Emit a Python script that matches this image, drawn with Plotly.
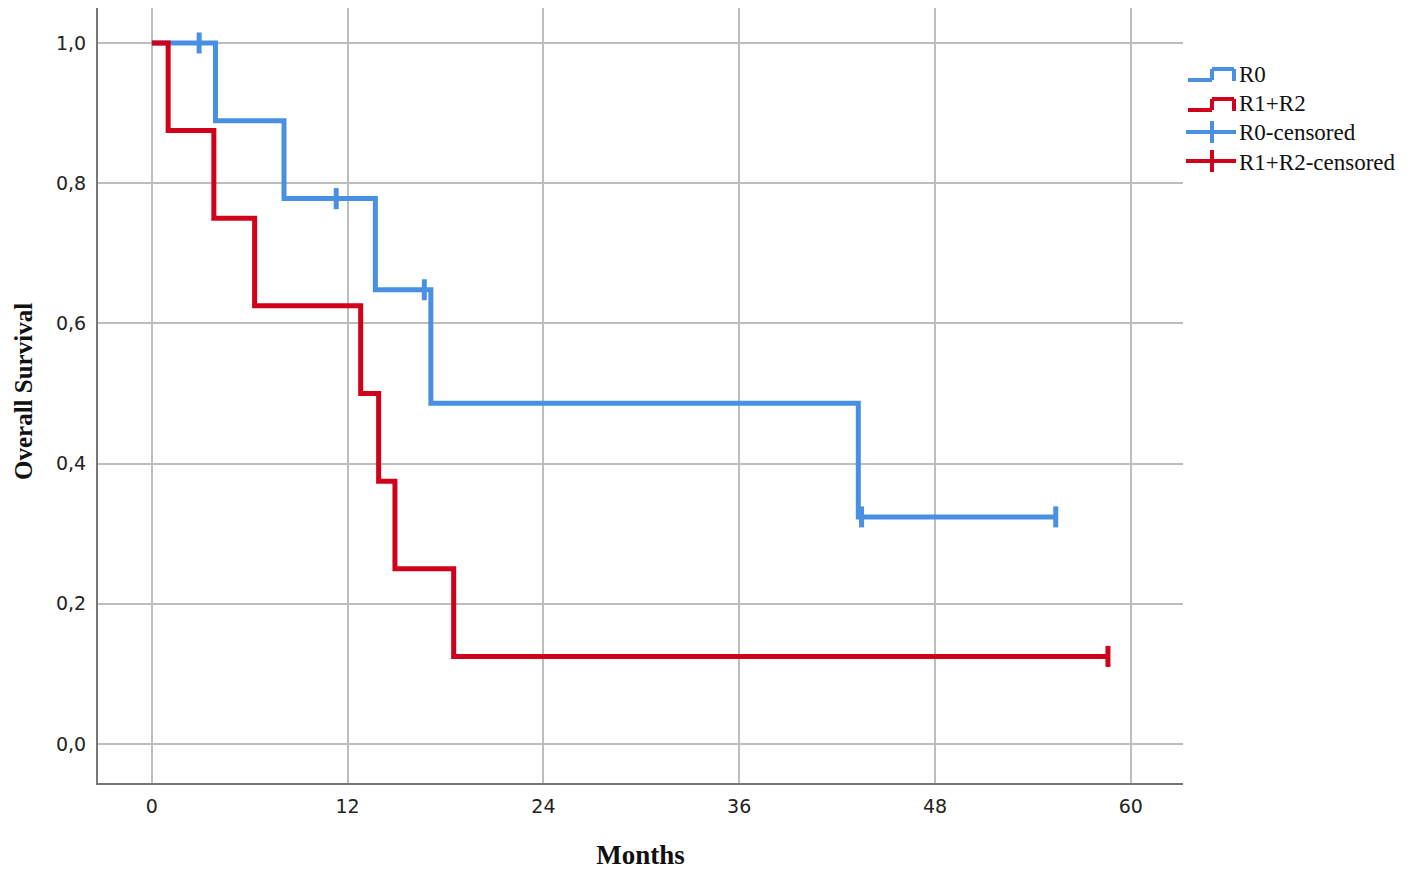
import plotly.graph_objects as go

# ---- data ----
r0_time = [0, 3.9, 8.1, 13.7, 17.1, 43.3, 55.4]
r0_surv = [1.0, 0.889, 0.778, 0.648, 0.486, 0.324, 0.324]
r0_cens_time = [2.9, 11.3, 16.7, 43.5, 55.4]
r0_cens_surv = [1.0, 0.778, 0.648, 0.324, 0.324]

r12_time = [0, 1.0, 3.8, 6.3, 12.8, 13.9, 14.9, 18.5, 58.6]
r12_surv = [1.0, 0.875, 0.75, 0.625, 0.5, 0.375, 0.25, 0.125, 0.125]
r12_cens_time = [58.6]
r12_cens_surv = [0.125]

x_ticks = [0, 12, 24, 36, 48, 60]
y_ticks = [0.0, 0.2, 0.4, 0.6, 0.8, 1.0]
legend_names = ["R0", "R1+R2", "R0-censored", "R1+R2-censored"]

BLUE = "#4A90E2"
RED = "#D0021B"

fig = go.Figure()
fig.add_trace(go.Scatter(x=r0_time, y=r0_surv, mode="lines", line=dict(shape="hv", color=BLUE, width=5),
                         name=legend_names[0], showlegend=False))
fig.add_trace(go.Scatter(x=r12_time, y=r12_surv, mode="lines", line=dict(shape="hv", color=RED, width=5),
                         name=legend_names[1], showlegend=False))
fig.add_trace(go.Scatter(x=r0_cens_time, y=r0_cens_surv, mode="markers",
                         marker=dict(symbol="line-ns", size=15, line=dict(color=BLUE, width=5)),
                         name=legend_names[2], showlegend=False))
fig.add_trace(go.Scatter(x=r12_cens_time, y=r12_cens_surv, mode="markers",
                         marker=dict(symbol="line-ns", size=15, line=dict(color=RED, width=5)),
                         name=legend_names[3], showlegend=False))

# ---- layout geometry (page has an 8px body margin) ----
OFF = 8
W, H = 1418 - OFF, 870 - OFF
L, R, T, B = 98 - OFF, 235, 0, 870 - 783
pw, ph = W - L - R, H - T - B

def px(x):
    return (x - OFF - L) / pw

def py(y):
    return 1 - (y - OFF - T) / ph

shapes = []
def seg(x0, y0, x1, y1, color):
    shapes.append(dict(type="line", xref="paper", yref="paper", x0=px(x0), y0=py(y0), x1=px(x1), y1=py(y1),
                       line=dict(color=color, width=4)))

for i, color in enumerate([BLUE, RED]):
    off = i * 30
    pts = [(1188, 80 + off), (1212, 80 + off), (1212, 69 + off), (1234, 69 + off), (1234, 81 + off)]
    for (a, b), (c, d) in zip(pts[:-1], pts[1:]):
        seg(a, b, c, d, color)

for i, color in enumerate([BLUE, RED]):
    yc = 132 + i * 29
    seg(1186, yc, 1236, yc, color)
    seg(1212, yc - 11, 1212, yc + 11, color)

annotations = []
for i, name in enumerate(legend_names):
    annotations.append(dict(xref="paper", yref="paper", x=px(1237), y=py(74 + i * 29.5), text=name,
                            showarrow=False, xanchor="left", yanchor="middle",
                            font=dict(family="Liberation Serif", size=23, color="#111")))

annotations.append(dict(xref="paper", yref="paper", x=px(23), y=py(392), text="<b>Overall Survival</b>",
                        textangle=-90, showarrow=False, xanchor="center", yanchor="middle", borderpad=0,
                        font=dict(family="Liberation Serif", size=25, color="#111")))

fig.update_layout(
    width=W, height=H,
    margin=dict(l=L, r=R, t=T, b=B),
    plot_bgcolor="white", paper_bgcolor="white",
    separators=",.",
    shapes=shapes, annotations=annotations,
    showlegend=False,
)
fig.update_xaxes(
    range=[-3.3, 63.2], tickvals=x_ticks, showgrid=True, gridcolor="#BDBDBD", gridwidth=1.5,
    showline=True, linecolor="#777", linewidth=2, mirror=False, zeroline=False,
    tickfont=dict(family="DejaVu Sans", size=19, color="#222"), ticklabelstandoff=5,
    title=dict(text="<b>Months</b>", font=dict(family="Liberation Serif", size=27, color="#111"), standoff=31),
)
fig.update_yaxes(
    range=[-0.0556, 1.0499], tickvals=y_ticks, tickformat=".1f", showgrid=True, gridcolor="#BDBDBD", gridwidth=1.5,
    showline=True, linecolor="#777", linewidth=2, mirror=False, zeroline=False,
    tickfont=dict(family="DejaVu Sans", size=19, color="#222"), ticklabelstandoff=6,
)

fig.write_html("out.html")
